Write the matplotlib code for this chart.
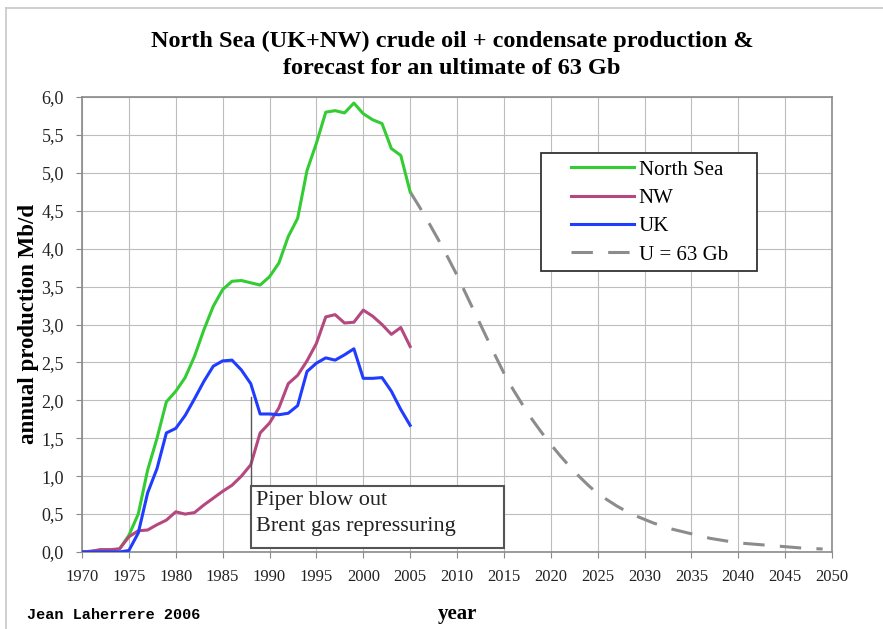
import matplotlib
matplotlib.use("Agg")
import matplotlib.pyplot as plt
from matplotlib.patches import Rectangle
from matplotlib.lines import Line2D
from matplotlib.ticker import FuncFormatter, MultipleLocator

# ---- data ----
years = list(range(1970, 2006))
north_sea = [0.0, 0.01, 0.03, 0.03, 0.04, 0.22, 0.50, 1.08, 1.50, 1.98,
             2.12, 2.30, 2.58, 2.93, 3.24, 3.46, 3.57, 3.58, 3.55, 3.52,
             3.63, 3.81, 4.16, 4.40, 5.03, 5.39, 5.80, 5.82, 5.79, 5.92,
             5.78, 5.70, 5.65, 5.32, 5.23, 4.75]
nw = [0.0, 0.01, 0.03, 0.03, 0.04, 0.20, 0.28, 0.29, 0.36, 0.42,
      0.53, 0.50, 0.52, 0.62, 0.71, 0.80, 0.88, 1.00, 1.15, 1.57,
      1.70, 1.90, 2.22, 2.33, 2.52, 2.75, 3.10, 3.13, 3.02, 3.03,
      3.19, 3.11, 3.00, 2.87, 2.96, 2.71]
uk = [0.0, 0.0, 0.0, 0.0, 0.0, 0.02, 0.25, 0.78, 1.10, 1.57,
      1.63, 1.80, 2.02, 2.25, 2.45, 2.52, 2.53, 2.40, 2.22, 1.82,
      1.82, 1.81, 1.83, 1.93, 2.38, 2.49, 2.56, 2.53, 2.60, 2.68,
      2.29, 2.29, 2.30, 2.12, 1.88, 1.67]
fc_years = list(range(2005, 2050))
forecast = [4.75, 4.55, 4.34, 4.12, 3.89, 3.65, 3.39, 3.13, 2.87, 2.61,
            2.36, 2.14, 1.94, 1.75, 1.58, 1.42, 1.27, 1.13, 1.00, 0.88,
            0.77, 0.69, 0.61, 0.54, 0.48, 0.43, 0.38, 0.34, 0.30, 0.27,
            0.24, 0.21, 0.18, 0.16, 0.14, 0.12, 0.11, 0.10, 0.09, 0.08,
            0.07, 0.06, 0.05, 0.045, 0.04]
x_ticks = list(range(1970, 2051, 5))
labels = ["North Sea", "NW", "UK", "U = 63 Gb"]

SERIF = ["Liberation Serif", "DejaVu Serif"]

W, H = 883, 629
fig = plt.figure(figsize=(W / 100, H / 100), dpi=100)
L, R, T, B = 82, 832, 97, 552
ax = fig.add_axes([L / W, 1 - B / H, (R - L) / W, (B - T) / H])

def ax_x(px):
    return (px - L) / (R - L)

def ax_y(py):
    return 1 - (py - T) / (B - T)

ax.plot(years, north_sea, color="#33cc33", lw=2.2, label=labels[0], zorder=4)
ax.plot(years, nw, color="#b5487f", lw=2.2, label=labels[1], zorder=4)
ax.plot(years, uk, color="#1f3cff", lw=2.2, label=labels[2], zorder=4)
ax.plot(fc_years, forecast, color="#8c8c8c", lw=2.2, dashes=(7, 5),
        label=labels[3], zorder=3)

ax.set_xlim(1970, 2050)
ax.set_ylim(0, 6)
ax.set_xticks(x_ticks)
ax.yaxis.set_major_locator(MultipleLocator(0.5))
ax.yaxis.set_major_formatter(FuncFormatter(lambda v, p: f"{v:.1f}".replace(".", ",")))
ax.grid(True, color="#bdbdbd", lw=0.8, zorder=0)
ax.set_axisbelow(True)
for s in ax.spines.values():
    s.set_color("#8a8a8a")
    s.set_linewidth(1.2)
ax.tick_params(axis="both", colors="#8a8a8a", length=4, width=0.8,
               labelcolor="#222222")
for lab in ax.get_xticklabels():
    lab.set_fontfamily(SERIF)
    lab.set_fontsize(12)
for lab in ax.get_yticklabels():
    lab.set_fontfamily(SERIF)
    lab.set_fontsize(13)
ax.tick_params(axis="x", pad=8)
ax.tick_params(axis="y", pad=9)

ax.set_ylabel("annual production Mb/d", family=SERIF, fontsize=16.5,
              fontweight="bold", labelpad=2)
ax.set_xlabel("year", family=SERIF, fontsize=15, fontweight="bold", labelpad=14)

# legend frame (drawn separately for the wide side padding)
ax.add_patch(Rectangle((ax_x(541), ax_y(271)), ax_x(757) - ax_x(541),
                       ax_y(153) - ax_y(271), transform=ax.transAxes,
                       facecolor="white", edgecolor="#333333", lw=1.3, zorder=6))
leg = ax.legend(loc="upper left", bbox_to_anchor=(ax_x(571), ax_y(160)),
                prop={"family": SERIF, "size": 15}, frameon=False,
                handlelength=3.0, handletextpad=0.25, borderpad=0,
                labelspacing=0.42, borderaxespad=0)
leg.set_zorder(7)

# annotation box
ax.add_patch(Rectangle((1988, 0.05), 27, 0.82, facecolor="white",
                       edgecolor="#555555", lw=1.5, zorder=5))
ax.plot([1988, 1988], [2.05, 0.87], color="#555555", lw=1.0, zorder=5)
ax.text(1988.6, 0.68, "Piper blow out", family=SERIF, fontsize=16,
        va="center", ha="left", zorder=6, color="#222222")
ax.text(1988.6, 0.33, "Brent gas repressuring", family=SERIF, fontsize=16,
        va="center", ha="left", zorder=6, color="#222222")

fig.text(452 / W, 1 - 41 / H, "North Sea (UK+NW) crude oil + condensate production &",
         family=SERIF, fontsize=17.5, fontweight="bold", ha="center", va="center")
fig.text(452 / W, 1 - 68 / H, "forecast for an ultimate of 63 Gb",
         family=SERIF, fontsize=17.5, fontweight="bold", ha="center", va="center")
fig.text(27 / W, 1 - 615 / H, "Jean Laherrere 2006", family=["Liberation Mono"],
         fontsize=11, fontweight="bold", ha="left", va="center")

# page border
fig.add_artist(Line2D([6 / W, 1], [1 - 8 / H, 1 - 8 / H], color="#c8c8c8", lw=1.2))
fig.add_artist(Line2D([6 / W, 6 / W], [0, 1 - 8 / H], color="#c8c8c8", lw=1.2))

fig.savefig("out.png", dpi=100)
